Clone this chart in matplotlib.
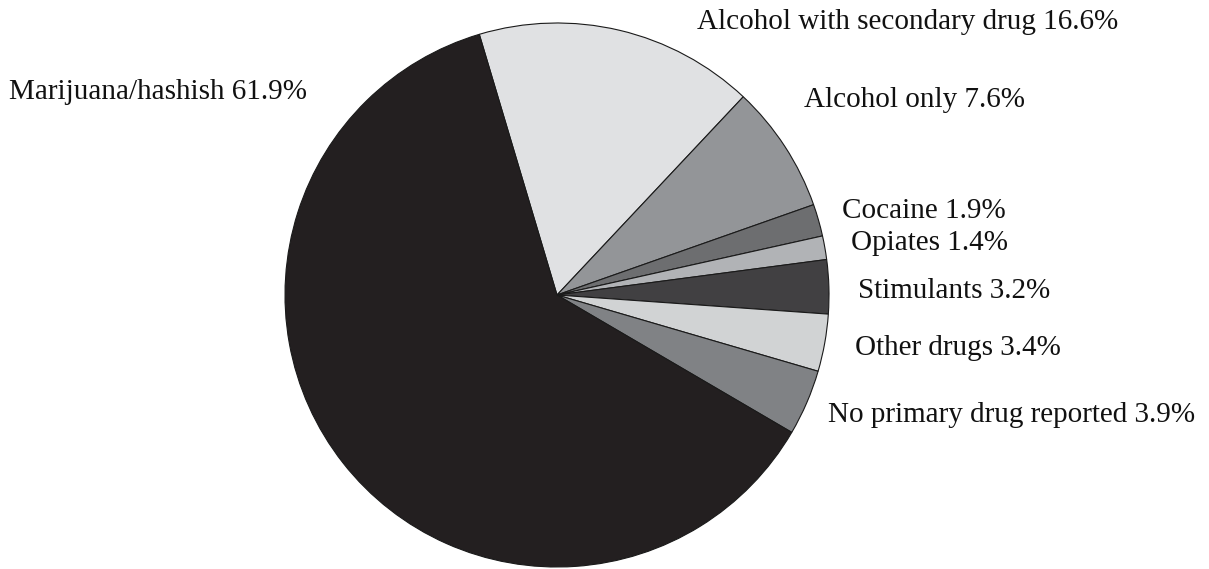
"""Pie chart: primary drug distribution (grayscale, labels at the right/left)."""

import matplotlib

matplotlib.use("Agg")
import matplotlib.pyplot as plt  # noqa: E402

labels = [
    "Alcohol with secondary drug",
    "Alcohol only",
    "Cocaine",
    "Opiates",
    "Stimulants",
    "Other drugs",
    "No primary drug reported",
    "Marijuana/hashish",
]
shares = [16.6, 7.6, 1.9, 1.4, 3.2, 3.4, 3.9, 61.9]
colors = ["#e0e1e3", "#939598", "#6d6e70", "#b1b3b6", "#414042", "#d1d3d4", "#808285", "#231f20"]

# label anchor (left x, center y) in pixels from top-left
label_pos = [
    (697, 22),
    (804, 100),
    (842, 211),
    (851, 243),
    (858, 291),
    (855, 348),
    (828, 415),
    (9, 92),
]

W, H = 1209, 569

fig = plt.figure(figsize=(W / 100, H / 100), dpi=100)
ax = fig.add_axes([0, 0, 1, 1])

ax.pie(
    shares,
    colors=colors,
    startangle=106.6,
    counterclock=False,
    center=(557, H - 295),
    radius=272,
    wedgeprops=dict(edgecolor="#1a1a1a", linewidth=0.8),
    frame=True,
)
ax.set_xlim(0, W)
ax.set_ylim(0, H)
ax.set_aspect("equal")
ax.axis("off")

for lab, val, (x, y) in zip(labels, shares, label_pos):
    ax.text(
        x, H - y, f"{lab} {val}%",
        ha="left", va="center", fontsize=21,
        family="Liberation Serif", color="#111111",
    )

fig.savefig("out.png", dpi=100)
plt.close(fig)
